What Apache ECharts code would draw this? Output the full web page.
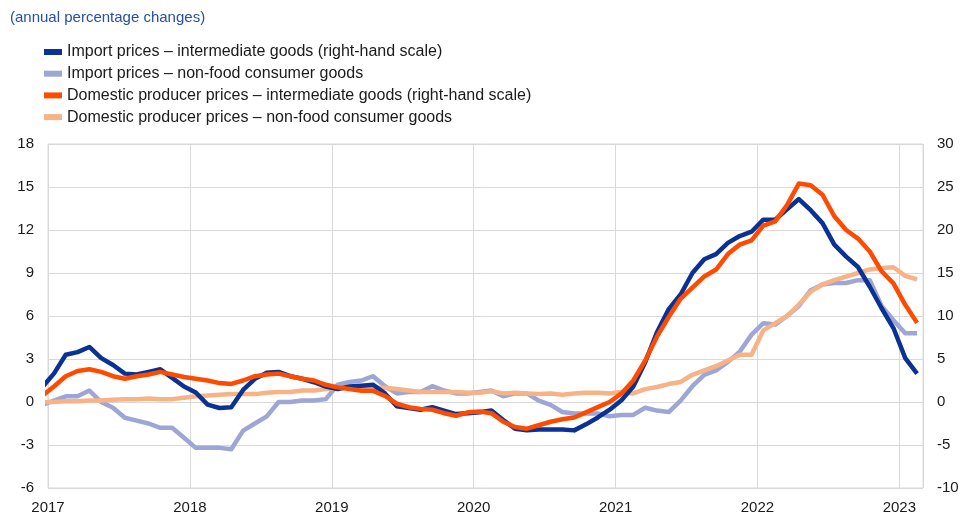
<!DOCTYPE html>
<html>
<head>
<meta charset="utf-8">
<script src="https://cdn.jsdelivr.net/npm/echarts@6/dist/echarts.min.js"></script>
<style>
  html, body { margin: 0; padding: 0; background: #fff; }
  #chart { width: 968px; height: 528px; }
</style>
</head>
<body>
<div id="chart"></div>
<script>
// monthly observations, Dec 2016 .. Feb 2023
const firstYear = 2016, firstMonth = 12, monthCount = 75;
const months = [];
for (let k = 0; k < monthCount; k++) {
  const m = (firstMonth - 1 + k) % 12 + 1;
  const y = firstYear + Math.floor((firstMonth - 1 + k) / 12);
  months.push(y + '-' + String(m).padStart(2, '0'));
}
const yearLabels = ['2017', '2018', '2019', '2020', '2021', '2022', '2023'];

// right-hand scale
const importInter = [1.7, 3.3, 5.5, 5.8, 6.4, 5.1, 4.3, 3.3, 3.2, 3.5, 3.8, 2.8, 1.8,
  1.1, -0.3, -0.7, -0.6, 1.4, 2.7, 3.4, 3.5, 3.0, 2.7, 2.3, 1.8,
  1.5, 1.8, 1.9, 2.0, 1.0, -0.5, -0.7, -0.9, -0.6, -1.0, -1.4, -1.3,
  -1.2, -1.0, -2.1, -3.1, -3.3, -3.2, -3.2, -3.2, -3.3, -2.6, -1.8, -0.9,
  0.2, 1.8, 4.6, 8.1, 10.8, 12.5, 15.0, 16.6, 17.2, 18.5, 19.3, 19.8,
  21.2, 21.2, 22.4, 23.6, 22.3, 20.8, 18.3, 16.9, 15.7, 13.4, 10.9, 8.6,
  5.1, 3.3];
// left-hand scale
const importCons = [-0.2, 0.1, 0.4, 0.4, 0.8, 0.0, -0.4, -1.1, -1.3, -1.5, -1.8, -1.8, -2.5,
  -3.2, -3.2, -3.2, -3.3, -2.0, -1.5, -1.0, 0.0, 0.0, 0.1, 0.1, 0.2,
  1.2, 1.4, 1.5, 1.8, 1.1, 0.6, 0.7, 0.7, 1.1, 0.8, 0.6, 0.6,
  0.7, 0.8, 0.4, 0.6, 0.6, 0.1, -0.2, -0.7, -0.8, -0.8, -0.8, -1.0,
  -0.9, -0.9, -0.4, -0.6, -0.7, 0.1, 1.1, 1.9, 2.2, 2.8, 3.5, 4.7,
  5.5, 5.4, 6.0, 6.7, 7.8, 8.2, 8.3, 8.3, 8.5, 8.5, 6.7, 5.7,
  4.8, 4.8];
// right-hand scale
const domInter = [0.7, 1.8, 3.0, 3.6, 3.8, 3.5, 3.0, 2.7, 3.0, 3.2, 3.5, 3.2, 2.9,
  2.7, 2.5, 2.2, 2.1, 2.5, 3.0, 3.2, 3.3, 3.0, 2.7, 2.5, 2.0,
  1.7, 1.5, 1.3, 1.3, 0.7, -0.2, -0.6, -0.8, -0.9, -1.3, -1.6, -1.2,
  -1.1, -1.3, -2.3, -2.9, -3.1, -2.7, -2.3, -2.0, -1.8, -1.2, -0.6, 0.0,
  1.0, 2.5, 4.8, 7.6, 9.9, 12.0, 13.3, 14.6, 15.4, 17.2, 18.3, 18.8,
  20.5, 21.0, 22.9, 25.4, 25.2, 24.1, 21.6, 20.0, 19.0, 17.5, 15.2, 13.8,
  11.3, 9.2];
// left-hand scale
const domCons = [0.0, 0.0, 0.05, 0.05, 0.1, 0.1, 0.15, 0.2, 0.2, 0.25, 0.2, 0.2, 0.3,
  0.4, 0.45, 0.5, 0.55, 0.55, 0.55, 0.65, 0.7, 0.7, 0.8, 0.8, 0.9,
  0.95, 1.0, 1.05, 1.0, 1.0, 0.9, 0.8, 0.7, 0.7, 0.7, 0.7, 0.65,
  0.65, 0.75, 0.6, 0.65, 0.6, 0.55, 0.6, 0.5, 0.6, 0.65, 0.65, 0.6,
  0.7, 0.6, 0.9, 1.05, 1.25, 1.4, 1.9, 2.2, 2.5, 2.9, 3.3, 3.3,
  5.0, 5.5, 6.0, 6.8, 7.7, 8.2, 8.5, 8.75, 9.0, 9.25, 9.35, 9.4,
  8.8, 8.55];

const names = [
  'Import prices \u2013 intermediate goods (right-hand scale)',
  'Import prices \u2013 non-food consumer goods',
  'Domestic producer prices \u2013 intermediate goods (right-hand scale)',
  'Domestic producer prices \u2013 non-food consumer goods'
];
const colors = ['#0a3294', '#9ea6d6', '#ff4b00', '#f7b286'];

// months since Jan 2017, points plotted mid-month
function pos(label) {
  const [y, m] = label.split('-').map(Number);
  return (y - 2017) * 12 + (m - 1) + 0.5;
}
function pairs(values) {
  return values.map((v, k) => [pos(months[k]), v]);
}

const font = 'Liberation Sans, Arial, sans-serif';

function line(idx, values, yAxisIndex, z) {
  return {
    name: names[idx],
    type: 'line',
    yAxisIndex: yAxisIndex,
    data: pairs(values),
    showSymbol: false,
    symbol: 'none',
    z: z,
    lineStyle: { color: colors[idx], width: 4.5, join: 'round' },
    itemStyle: { color: colors[idx] }
  };
}

const chart = echarts.init(document.getElementById('chart'));
chart.setOption({
  animation: false,
  title: {
    text: '(annual percentage changes)',
    left: 5, top: 5,
    textStyle: { color: '#2350a8', fontSize: 15, fontWeight: 'normal', fontFamily: font }
  },
  legend: {
    orient: 'vertical',
    left: 39, top: 39,
    itemWidth: 18, itemHeight: 6, itemGap: 5.7,
    icon: 'rect',
    data: names,
    textStyle: { color: '#1a1a1a', fontSize: 16, fontFamily: font }
  },
  grid: {
    left: 48, right: 45, top: 144, bottom: 40,
    show: true, borderColor: '#d9d9d9', borderWidth: 1
  },
  xAxis: {
    type: 'value',
    min: 0, max: 74, interval: 12,
    axisLine: { show: false },
    axisTick: { show: false },
    splitLine: { show: true, lineStyle: { color: '#d9d9d9', width: 1 } },
    axisLabel: {
      margin: 12, color: '#1a1a1a', fontSize: 15, fontFamily: font,
      formatter: v => (v % 12 === 0 ? yearLabels[v / 12] : '')
    }
  },
  yAxis: [{
    type: 'value',
    min: -6, max: 18, interval: 3,
    axisLine: { show: false },
    axisTick: { show: false },
    splitLine: { show: true, lineStyle: { color: '#d9d9d9', width: 1 } },
    axisLabel: { margin: 14, color: '#1a1a1a', fontSize: 15, fontFamily: font }
  }, {
    type: 'value',
    min: -10, max: 30, interval: 5,
    axisLine: { show: false },
    axisTick: { show: false },
    splitLine: { show: false },
    axisLabel: { margin: 14, color: '#1a1a1a', fontSize: 15, fontFamily: font }
  }],
  series: [
    line(1, importCons, 0, 2),
    line(3, domCons, 0, 3),
    line(0, importInter, 1, 4),
    line(2, domInter, 1, 5)
  ]
});
</script>
</body>
</html>
